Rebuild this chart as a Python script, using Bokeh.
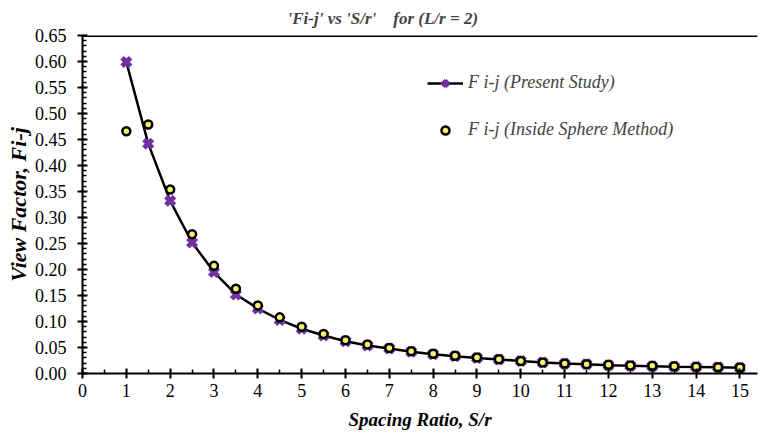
from bokeh.plotting import figure
from bokeh.models import (Range1d, SingleIntervalTicker, NumeralTickFormatter, Span,
                          Legend, LegendItem)
from bokeh.embed import file_html
from bokeh.resources import INLINE

# ---- data ----
spacing_ratio = [1, 1.5, 2, 2.5, 3, 3.5, 4, 4.5, 5, 5.5, 6, 6.5, 7, 7.5, 8, 8.5, 9, 9.5,
                 10, 10.5, 11, 11.5, 12, 12.5, 13, 13.5, 14, 14.5, 15]
present_study = [0.599, 0.442, 0.332, 0.252, 0.195, 0.152, 0.125, 0.103, 0.086, 0.073,
                 0.062, 0.054, 0.048, 0.042, 0.037, 0.033, 0.030, 0.027, 0.024, 0.021,
                 0.019, 0.018, 0.016, 0.015, 0.014, 0.013, 0.0125, 0.012, 0.011]
inside_sphere = [0.466, 0.479, 0.354, 0.268, 0.207, 0.163, 0.131, 0.108, 0.090, 0.076,
                 0.064, 0.056, 0.049, 0.043, 0.038, 0.034, 0.031, 0.0275, 0.024, 0.021,
                 0.019, 0.018, 0.0166, 0.0154, 0.0147, 0.014, 0.0128, 0.012, 0.0115]
y_max = 0.65

title_text = "'Fi-j' vs 'S/r'\u00a0\u00a0\u00a0\u00a0for (L/r = 2)"
x_label = "Spacing Ratio, S/r"
y_label = "View Factor, Fi-j"
label_present = "F i-j (Present Study)"
label_sphere = "F i-j (Inside Sphere Method)"

FONT = "Liberation Serif"
PURPLE = "#7030A0"
YELLOW = "#F4F46A"

p = figure(width=761, height=433, output_backend="svg", toolbar_location=None,
           x_range=Range1d(0, 15.4), y_range=Range1d(0, y_max),
           min_border_left=82, min_border_right=4, min_border_top=35, min_border_bottom=60)

p.title.text = title_text
p.title.text_font = FONT
p.title.text_font_style = "bold italic"
p.title.text_font_size = "17px"
p.title.align = "left"
p.title.vertical_align = "top"
p.title.offset = 205
p.title.standoff = 12

p.outline_line_color = None
p.xgrid.grid_line_color = None
p.ygrid.grid_line_color = None
p.background_fill_color = "white"
p.border_fill_color = "white"

# top border line of the plot area
p.add_layout(Span(location=y_max, dimension="width", line_color="black", line_width=3))

# curve + markers
r_line = p.line(spacing_ratio, present_study, line_color="black", line_width=2.5)
r_x = p.scatter(spacing_ratio, present_study, marker="x", size=12, line_color=PURPLE,
                line_width=5)
r_c = p.scatter(spacing_ratio, inside_sphere, marker="circle", size=8, fill_color=YELLOW,
                line_color="black", line_width=2.5)

# axes styling
xa = p.xaxis[0]
xa.ticker = SingleIntervalTicker(interval=1, num_minor_ticks=2)
ya = p.yaxis[0]
ya.ticker = SingleIntervalTicker(interval=0.05, num_minor_ticks=5)
ya.formatter = NumeralTickFormatter(format="0.00")

for ax in (xa, ya):
    ax.axis_line_width = 2
    ax.axis_line_color = "black"
    ax.major_tick_line_width = 2
    ax.minor_tick_line_width = 1.5
    ax.major_tick_line_color = "black"
    ax.minor_tick_line_color = "black"
    ax.major_tick_in = 5
    ax.major_tick_out = 5
    ax.minor_tick_in = 4
    ax.minor_tick_out = 0
    ax.major_label_text_font = FONT
    ax.major_label_text_font_size = "18px"
    ax.major_label_text_color = "black"
    ax.axis_label_text_font = FONT
    ax.axis_label_text_font_style = "bold italic"
    ax.axis_label_text_color = "black"

xa.axis_label = x_label
xa.axis_label_text_font_size = "19px"
xa.major_label_standoff = 5
xa.axis_label_standoff = 9
ya.axis_label = y_label
ya.axis_label_text_font_size = "22px"
ya.major_label_standoff = 11
ya.axis_label_standoff = 1

legend = Legend(items=[LegendItem(label=label_present, renderers=[r_line, r_x]),
                       LegendItem(label=label_sphere, renderers=[r_c])],
                location=(345, 233), border_line_color=None, background_fill_alpha=0,
                padding=0, margin=0, spacing=26, glyph_width=36, glyph_height=20,
                label_standoff=5, label_text_font=FONT, label_text_font_style="italic",
                label_text_font_size="18px", label_height=20)
p.add_layout(legend, "center")

open("out.html", "w").write(file_html(p, INLINE))
